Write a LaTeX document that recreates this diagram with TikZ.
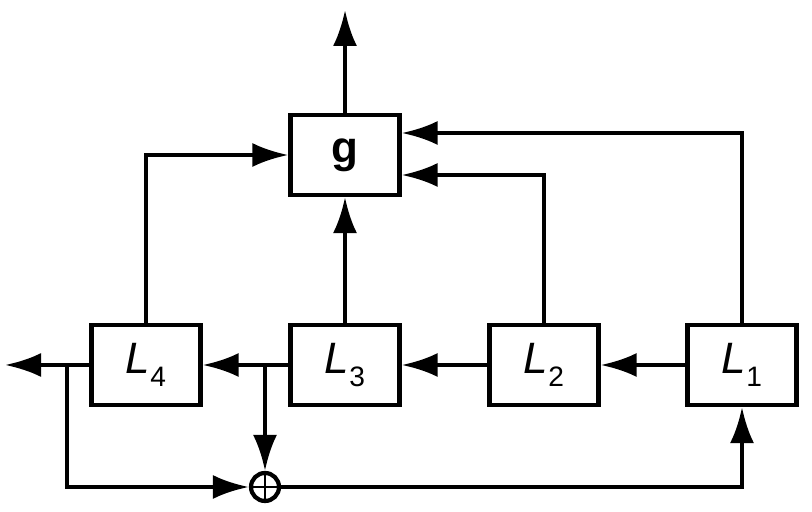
\documentclass[tikz,border=0pt]{standalone}
\usepackage{fontspec}
\setmainfont{Liberation Sans}
\usetikzlibrary{arrows.meta,positioning}
\newcommand{\lname}[1]{\textit{L}\raisebox{-0.55ex}{\fontsize{8}{9}\selectfont #1}}
\tikzset{
    block/.style ={
        shape=rectangle,
        draw=black,
        line width=1.2pt,
        minimum width=1.09cm,
        minimum height=0.8cm,
        font=\fontsize{12.5}{14}\selectfont
    },
    adder/.style ={
        shape=circle,
        draw=black,
        line width=1.2pt,
        inner sep=0pt,
        minimum size=0.28cm
    },
    wire/.style ={
        line width=1.2pt,
        -{Latex[length=0.36cm,width=0.24cm]}
    }
}
\begin{document}
\begin{tikzpicture}
        \useasboundingbox (0,0) rectangle (8.12,5.12);
        \node[block] (g) at(3.45,3.57) {\textbf{g}};
        \node[block] (L4) at(1.46,1.47) {\lname{4}};
        \node[block] (L3) at(3.45,1.47) {\lname{3}};
        \node[block] (L2) at(5.44,1.47) {\lname{2}};
        \node[block] (L1) at(7.42,1.47) {\lname{1}};
        \node[adder] (sum) at(2.65,0.25) {};
        \coordinate (out) at(3.45,5.02);
        \coordinate (left) at(0.05,1.47);
        \coordinate (b3) at(2.65,1.47);
        \coordinate (b4) at(0.67,1.47);
        \draw[line width=0.8pt] (sum.north)--(sum.south) (sum.west)--(sum.east);
        \draw[wire] (g)--(out);
        \draw[wire] (L1)--(L2);
        \draw[wire] (L2)--(L3);
        \draw[wire] (L3)--(L4);
        \draw[wire] (L4)--(left);
        \draw[wire] (b3)--(sum);
        \draw[wire] (b4)|-(sum);
        \draw[wire] (sum)-|(L1);
        \draw[wire] (L3)--(g);
        \draw[wire] (L4)|-(g);
        \draw[wire] (L2.north)|-([yshift=-0.2cm]g.east);
        \draw[wire] (L1.north)|-([yshift=0.22cm]g.east);
    \end{tikzpicture}
\end{document}
